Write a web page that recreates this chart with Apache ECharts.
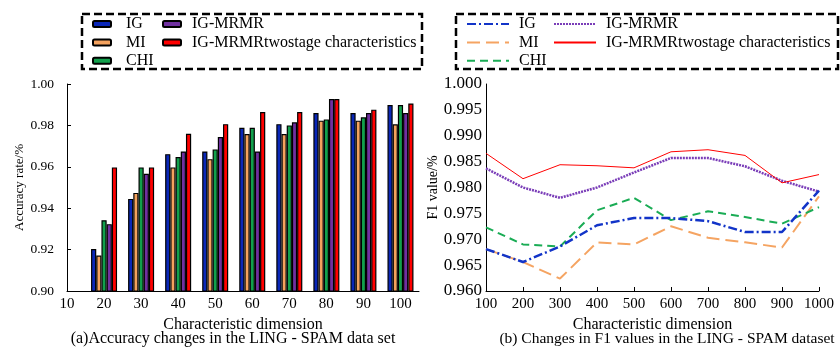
<!DOCTYPE html>
<html>
<head>
<meta charset="utf-8">
<script src="https://cdn.jsdelivr.net/npm/echarts@6/dist/echarts.min.js"></script>
<style>html,body{margin:0;padding:0;background:#fff}#c{width:840px;height:352px}</style>
</head>
<body>
<div id="c"></div>
<script>
// ---- data: (a) accuracy bars ----
const barDims = [20, 30, 40, 50, 60, 70, 80, 90, 100];
const accIG   = [0.9203, 0.9445, 0.9661, 0.9674, 0.9789, 0.9806, 0.9860, 0.9860, 0.9898];
const accMI   = [0.9171, 0.9474, 0.9597, 0.9637, 0.9758, 0.9758, 0.9823, 0.9823, 0.9805];
const accCHI  = [0.9342, 0.9597, 0.9647, 0.9684, 0.9789, 0.9800, 0.9829, 0.9839, 0.9898];
const accMRMR = [0.9323, 0.9566, 0.9674, 0.9744, 0.9674, 0.9815, 0.9927, 0.9860, 0.9860];
const accTwo  = [0.9597, 0.9597, 0.9760, 0.9806, 0.9865, 0.9865, 0.9927, 0.9876, 0.9906];
// ---- data: (b) F1 lines ----
const lineDims = [100, 200, 300, 400, 500, 600, 700, 800, 900, 1000];
const f1IG   = [0.9681, 0.9656, 0.9686, 0.9727, 0.9741, 0.9741, 0.9735, 0.9714, 0.9714, 0.9794];
const f1MI   = [0.9681, 0.9656, 0.9624, 0.9694, 0.9690, 0.9725, 0.9703, 0.9694, 0.9684, 0.9783];
const f1CHI  = [0.9723, 0.9690, 0.9686, 0.9756, 0.9780, 0.9737, 0.9754, 0.9743, 0.9730, 0.9762];
const f1MRMR = [0.9837, 0.9800, 0.9780, 0.9800, 0.9829, 0.9857, 0.9857, 0.9841, 0.9813, 0.9792];
const f1Two  = [0.9866, 0.9817, 0.9844, 0.9842, 0.9838, 0.9869, 0.9873, 0.9862, 0.9809, 0.9825];
// ---- labels ----
const seriesNames = ['IG', 'MI', 'CHI', 'IG-MRMR', 'IG-MRMRtwostage characteristics'];
const captionA = '(a)Accuracy changes in the LING - SPAM data set';
const captionB = '(b) Changes in F1 values in the LING - SPAM dataset';
const xName = 'Characteristic dimension';
const yNameA = 'Accuracy rate/%';
const yNameB = 'F1 value/%';

const FONT = '"Liberation Serif", "DejaVu Serif", serif';
const barColors = ['#0a27b8', '#f4a25e', '#12a04c', '#7030a0', '#ff0000'];
const lineColors = ['#1234c8', '#f5a462', '#1aac55', '#7a3db8', '#ff0000'];
const lineDash = [[9, 3, 2, 3], [13, 6], [8, 5], [2, 1], 'solid'];
const lineWidths = [2.5, 2, 2, 2.5, 1];

const accData = [accIG, accMI, accCHI, accMRMR, accTwo];
const f1Data = [f1IG, f1MI, f1CHI, f1MRMR, f1Two];
const rightNames = seriesNames.map(n => n + ' ');

const series = [];
accData.forEach((arr, i) => {
  series.push({
    name: seriesNames[i], type: 'bar', xAxisIndex: 0, yAxisIndex: 0,
    data: barDims.map((d, j) => [d, arr[j]]),
    barWidth: 5.2, barGap: '0%',
    itemStyle: { color: barColors[i], borderColor: '#000', borderWidth: 1.2 },
    emphasis: { disabled: true }
  });
});
f1Data.forEach((arr, i) => {
  series.push({
    name: rightNames[i], type: 'line', xAxisIndex: 1, yAxisIndex: 1,
    data: lineDims.map((d, j) => [d, arr[j]]),
    symbol: 'none', showSymbol: false,
    lineStyle: { color: lineColors[i], width: lineWidths[i], type: lineDash[i] },
    itemStyle: { color: lineColors[i] },
    z: i === 0 ? 6 : 3
  });
});

const axisLine = { show: true, lineStyle: { color: '#000', width: 1 } };
const legendText = { fontFamily: FONT, fontSize: 16, color: '#000', lineHeight: 16 };

const option = {
  animation: false,
  textStyle: { fontFamily: FONT },
  grid: [
    { left: 67, top: 84, width: 352, height: 207 },
    { left: 486, top: 84, width: 333, height: 207 }
  ],
  xAxis: [
    { gridIndex: 0, type: 'value', min: 10, max: 105, interval: 10,
      axisLine, axisTick: { show: false }, splitLine: { show: false },
      axisLabel: { fontFamily: FONT, fontSize: 15, color: '#000', margin: 6, showMaxLabel: false,
        formatter: v => (v > 100 ? '' : String(v)) },
      name: xName, nameLocation: 'middle', nameGap: 21,
      nameTextStyle: { fontFamily: FONT, fontSize: 16, color: '#000' } },
    { gridIndex: 1, type: 'value', min: 100, max: 1000, interval: 100,
      axisLine, axisTick: { show: true, inside: true, length: 4, lineStyle: { color: '#000' } },
      splitLine: { show: false },
      axisLabel: { fontFamily: FONT, fontSize: 15, color: '#000', margin: 6, formatter: v => String(v) },
      name: xName, nameLocation: 'middle', nameGap: 21,
      nameTextStyle: { fontFamily: FONT, fontSize: 16, color: '#000' } }
  ],
  yAxis: [
    { gridIndex: 0, type: 'value', min: 0.9, max: 1.0, interval: 0.02,
      axisLine, axisTick: { show: true, inside: true, length: 4, lineStyle: { color: '#000' } },
      splitLine: { show: false },
      axisLabel: { fontFamily: FONT, fontSize: 13.5, color: '#000', margin: 13, formatter: v => v.toFixed(2) },
      name: yNameA, nameLocation: 'middle', nameGap: 40, nameRotate: 90,
      nameTextStyle: { fontFamily: FONT, fontSize: 13, color: '#000' } },
    { gridIndex: 1, type: 'value', min: 0.96, max: 1.0, interval: 0.005,
      axisLine, axisTick: { show: false },
      splitLine: { show: false },
      axisLabel: { fontFamily: FONT, fontSize: 17, color: '#000', margin: 4, formatter: v => v.toFixed(3) },
      name: yNameB, nameLocation: 'middle', nameGap: 38, nameRotate: 90,
      nameTextStyle: { fontFamily: FONT, fontSize: 14, color: '#000' } }
  ],
  legend: [
    { data: seriesNames.slice(0, 3), left: 92, top: 16, orient: 'vertical', itemGap: 2.4,
      itemWidth: 18, itemHeight: 6, selectedMode: false, padding: 0,
      textStyle: Object.assign({ padding: [0, 0, 0, 10] }, legendText) },
    { data: seriesNames.slice(3), left: 162, top: 16, orient: 'vertical', itemGap: 2.4,
      itemWidth: 18, itemHeight: 6, selectedMode: false, padding: 0,
      textStyle: Object.assign({ padding: [0, 0, 0, 6] }, legendText) },
    { data: rightNames.slice(0, 3), left: 466, top: 16, orient: 'vertical', itemGap: 2.4,
      itemWidth: 42, itemHeight: 12, selectedMode: false, padding: 0,
      itemStyle: { opacity: 0 },
      textStyle: Object.assign({ padding: [0, 0, 0, 5] }, legendText) },
    { data: rightNames.slice(3), left: 553, top: 16, orient: 'vertical', itemGap: 2.4,
      itemWidth: 42, itemHeight: 12, selectedMode: false, padding: 0,
      itemStyle: { opacity: 0 },
      textStyle: Object.assign({ padding: [0, 0, 0, 5] }, legendText) }
  ],
  graphic: [
    { type: 'rect', shape: { x: 82, y: 14, width: 340, height: 55 },
      style: { fill: 'none', stroke: '#000', lineWidth: 2.5, lineDash: [8, 4] }, silent: true },
    { type: 'rect', shape: { x: 456, y: 14, width: 382, height: 55 },
      style: { fill: 'none', stroke: '#000', lineWidth: 2.5, lineDash: [8, 4] }, silent: true },
    { type: 'text', x: 233, y: 339, silent: true,
      style: { text: captionA, font: '16px ' + FONT, fill: '#000', align: 'center', verticalAlign: 'middle' } },
    { type: 'text', x: 667, y: 339, silent: true,
      style: { text: captionB, font: '15.5px ' + FONT, fill: '#000', align: 'center', verticalAlign: 'middle' } }
  ],
  series
};

const chart = echarts.init(document.getElementById('c'), null, { renderer: 'canvas' });
chart.setOption(option);
</script>
</body>
</html>
